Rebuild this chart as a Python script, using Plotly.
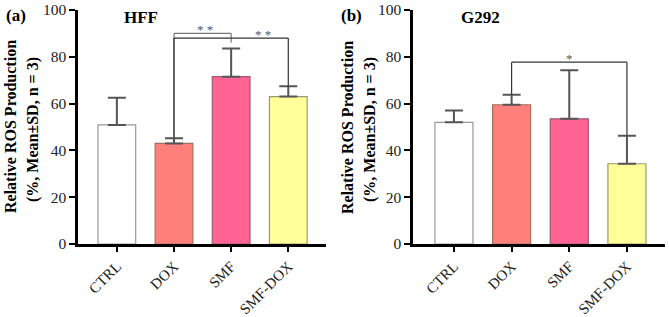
import plotly.graph_objects as go

categories = ["CTRL", "DOX", "SMF", "SMF-DOX"]
hff_mean = [50.9, 43.0, 71.5, 63.0]
hff_sd = [11.6, 2.2, 12.0, 4.4]
g292_mean = [52.0, 59.5, 53.5, 34.3]
g292_sd = [5.0, 4.3, 20.7, 12.0]
bar_colors = ["#FFFFFF", "#FF7F7A", "#FF6494", "#FFFF99"]
border_colors = ["#999999", "#A0705F", "#A05A70", "#9A9A70"]
y_ticks = [0, 20, 40, 60, 80, 100]

# significance brackets: (from idx, to idx, level, label, label position)
hff_brackets = [(1, 2, 90.0, "* *", 1.55), (1, 3, 88.0, "* *", 2.55)]
g292_brackets = [(1, 3, 77.7, "*", 2.0)]

FONT = "Liberation Serif"
W, H = 669, 317


def px_x(p):
    return p / W


def px_y(p):
    return 1 - p / H


fig = go.Figure()

for i, (mean, sd) in enumerate([(hff_mean, hff_sd), (g292_mean, g292_sd)]):
    xa = "x" if i == 0 else "x2"
    ya = "y" if i == 0 else "y2"
    fig.add_trace(go.Bar(
        x=categories, y=mean, xaxis=xa, yaxis=ya, width=0.66,
        marker=dict(color=bar_colors, line=dict(color=border_colors, width=1.2)),
        error_y=dict(type="data", array=sd, arrayminus=[0]*len(sd), symmetric=False,
                     color="#555555", thickness=2, width=9),
        showlegend=False, hoverinfo="skip"))

axis_common_x = dict(showline=True, linewidth=2.5, linecolor="black", ticks="outside",
                     ticklen=5, tickwidth=2, tickcolor="black", tickangle=-45,
                     tickfont=dict(family=FONT, size=15, color="#222"), automargin=False,
                     ticklabeloverflow="allow",
                     showgrid=False, zeroline=False, range=[-0.68, 3.66])
axis_common_y = dict(showline=True, linewidth=2.5, linecolor="black", ticks="outside",
                     ticklen=6, tickwidth=2, tickcolor="black", tickvals=y_ticks,
                     tickfont=dict(family=FONT, size=15.5, color="#222"), automargin=False,
                     ticklabeloverflow="allow",
                     showgrid=False, zeroline=False, range=[0, 100])

ydom = [px_y(244), px_y(10)]
fig.update_layout(
    template="none",
    width=W, height=H, margin=dict(l=0, r=0, t=0, b=0, pad=0), autosize=False,
    plot_bgcolor="white", paper_bgcolor="white",
    xaxis=dict(domain=[px_x(78), px_x(326)], anchor="y", **axis_common_x),
    yaxis=dict(domain=ydom, anchor="x", **axis_common_y),
    xaxis2=dict(domain=[px_x(413), px_x(665)], anchor="y2", **{**axis_common_x, "range": [-0.71, 3.66]}),
    yaxis2=dict(domain=ydom, anchor="x2", **axis_common_y),
)

shapes = []
annotations = []
for (xr, yr, mean, sd, brs) in [("x", "y", hff_mean, hff_sd, hff_brackets),
                                ("x2", "y2", g292_mean, g292_sd, g292_brackets)]:
    tops = [m + s for m, s in zip(mean, sd)]
    for k, (a, b, lvl, lab, lx) in enumerate(brs):
        col = "#777777" if (len(brs) > 1 and k == 0) else "#333333"
        line = dict(color=col, width=1.2)
        shapes.append(dict(type="line", xref=xr, yref=yr, x0=a, x1=b, y0=lvl, y1=lvl, line=line))
        shapes.append(dict(type="line", xref=xr, yref=yr, x0=a, x1=a, y0=lvl, y1=tops[a], line=line))
        end = tops[b] if (len(brs) == 1 or k == 1) else lvl - 4
        shapes.append(dict(type="line", xref=xr, yref=yr, x0=b, x1=b, y0=lvl, y1=end, line=line))
        annotations.append(dict(x=lx, y=lvl + 1.7, xref=xr, yref=yr, text=lab, showarrow=False,
                                xanchor="center", yanchor="middle",
                                font=dict(family=FONT, size=13, color="#555")))

# panel labels, titles, y-axis titles
for px, lab, tx, title, l1, l2 in [(16, "(a)", 141, "HFF", 11, 33), (351, "(b)", 480, "G292", 348, 370)]:
    annotations.append(dict(x=px_x(px), y=px_y(15), xref="paper", yref="paper", text="<b>%s</b>" % lab,
                            showarrow=False, xanchor="center", yanchor="middle",
                            font=dict(family=FONT, size=17, color="black")))
    annotations.append(dict(x=px_x(tx), y=px_y(17), xref="paper", yref="paper", text="<b>%s</b>" % title,
                            showarrow=False, xanchor="center", yanchor="middle",
                            font=dict(family=FONT, size=17, color="black")))
    annotations.append(dict(x=px_x(l1), y=px_y(127), xref="paper", yref="paper",
                            text="<b>Relative ROS Production</b>", textangle=-90, showarrow=False,
                            xanchor="center", yanchor="middle",
                            font=dict(family=FONT, size=16, color="black")))
    annotations.append(dict(x=px_x(l2), y=px_y(130), xref="paper", yref="paper",
                            text="<b>(%, Mean±SD, n = 3)</b>", textangle=-90, showarrow=False,
                            xanchor="center", yanchor="middle",
                            font=dict(family=FONT, size=16, color="black")))

fig.update_layout(shapes=shapes, annotations=annotations)
fig.write_html("out.html", config={"displayModeBar": False},
               post_script="document.body.style.margin='0px';")
